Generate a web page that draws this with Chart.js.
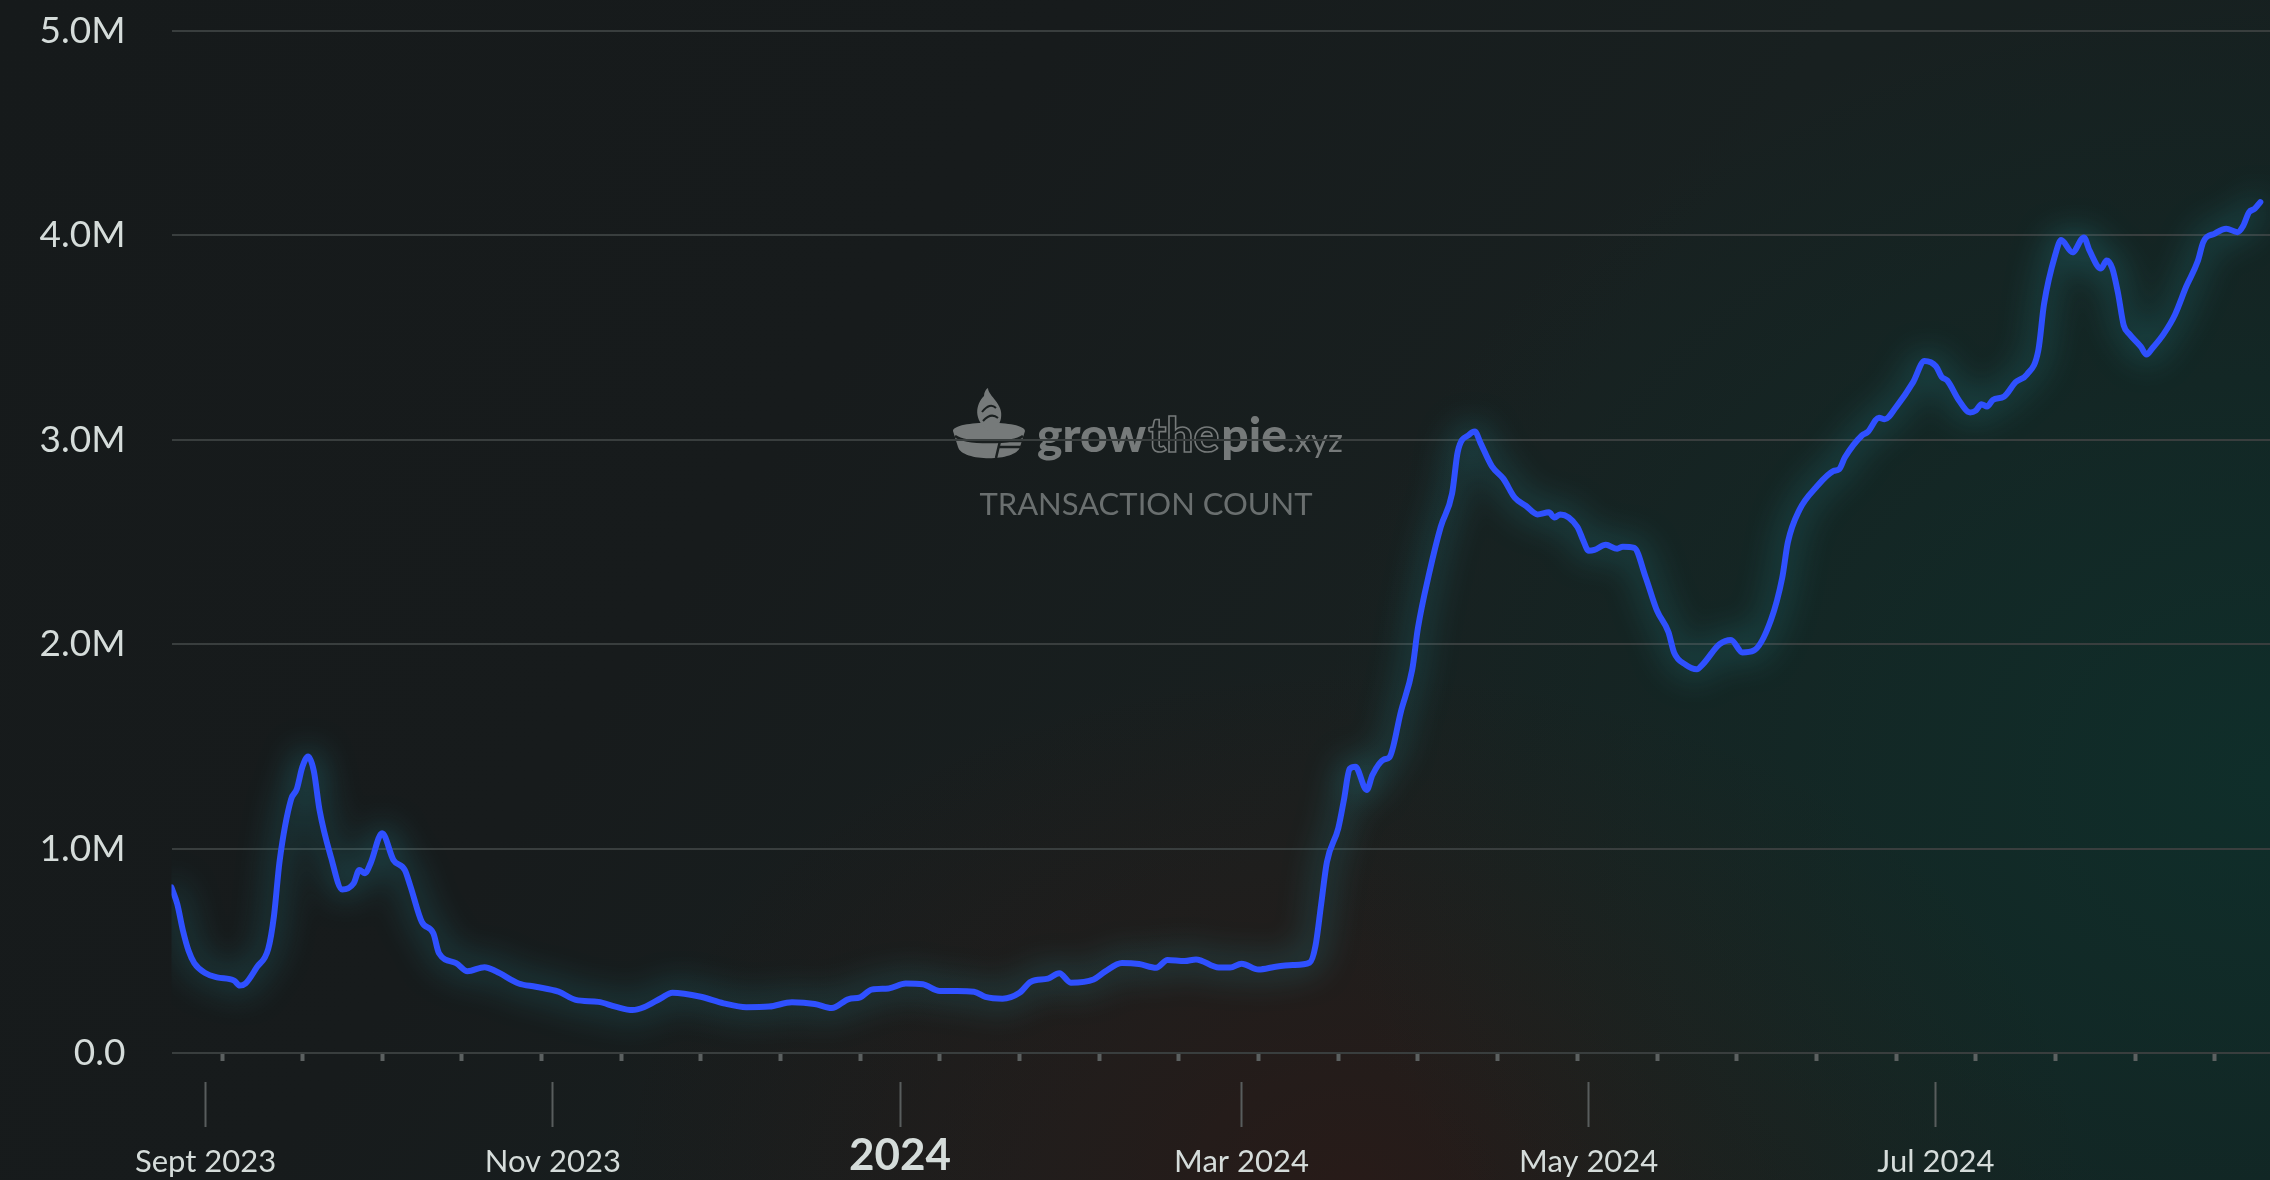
<!DOCTYPE html>
<html>
<head>
<meta charset="utf-8">
<script src="https://cdn.jsdelivr.net/npm/chart.js@4.4.1/dist/chart.umd.min.js"></script>
<style>
html,body{margin:0;padding:0;width:2270px;height:1180px;overflow:hidden;}
body{
  background:
    radial-gradient(ellipse 950px 800px at 2270px 780px, rgba(10,60,52,0.5), rgba(10,60,52,0) 100%),
    radial-gradient(ellipse 750px 520px at 1350px 1180px, rgba(62,20,14,0.42), rgba(62,20,14,0) 100%),
    linear-gradient(125deg, #161a1b 0%, #171b1c 35%, #182020 60%, #142020 100%);
}
#wrap{position:absolute;left:0;top:0;width:2270px;height:1180px;}
</style>
</head>
<body>
<div id="wrap"><canvas id="c" width="2270" height="1180"></canvas></div>
<script>
// ---- DATA ----
const START_DATE = '2023-08-26'; // day offset 0
const dayOffsets = [
  0,1,2,3,4,6,8,11,12,13,15,17,18,19,21,22,23,24,25,26,28,30,32,33,34,35,37,39,41,42,
  44,46,47,50,52,55,57,61,64,68,71,75,78,81,83,86,88,93,97,101,105,109,113,116,119,121,123,126,129,132,
  135,138,141,143,146,149,151,154,156,158,162,164,167,170,173,175,178,180,184,186,188,191,194,197,200,201,202,203,205,206,
  207,208,210,211,213,214,216,218,219,221,223,225,226,228,229,230,232,234,236,238,240,242,243,244,247,248,249,250,252,254,
  255,257,259,261,263,264,266,268,269,272,274,276,278,281,283,284,286,289,292,293,294,297,298,300,301,303,306,308,310,311,
  312,314,316,317,318,319,320,322,324,326,328,329,331,332,334,336,337,339,340,341,342,343,344,346,347,348,350,352,354,356,
  357,359,361,363,364,365,366,367
];
const txCountMillions = [
  0.81,0.73,0.60,0.50,0.44,0.39,0.37,0.354,0.33,0.34,0.42,0.51,0.67,0.94,1.24,1.29,1.40,1.45,1.38,1.19,0.96,0.80,0.83,0.895,0.88,0.93,1.075,0.944,0.895,0.814,
  0.64,0.586,0.488,0.44,0.40,0.42,0.40,0.34,0.324,0.30,0.26,0.25,0.227,0.21,0.224,0.268,0.295,0.275,0.243,0.224,0.227,0.248,0.24,0.22,0.264,0.272,0.31,0.316,0.34,0.336,
  0.303,0.303,0.30,0.275,0.266,0.295,0.349,0.364,0.39,0.344,0.36,0.398,0.44,0.435,0.417,0.455,0.45,0.458,0.418,0.418,0.437,0.408,0.422,0.43,0.443,0.525,0.73,0.934,1.10,1.24,
  1.39,1.40,1.287,1.36,1.436,1.447,1.67,1.877,2.08,2.35,2.574,2.738,2.943,3.025,3.04,2.984,2.87,2.81,2.717,2.676,2.635,2.645,2.62,2.635,2.574,2.51,2.457,2.461,2.486,2.467,
  2.477,2.471,2.328,2.164,2.06,1.959,1.90,1.877,1.90,2.0,2.021,1.96,1.969,2.117,2.325,2.50,2.656,2.769,2.847,2.856,2.913,3.021,3.038,3.108,3.10,3.16,3.282,3.386,3.36,3.308,
  3.29,3.195,3.134,3.143,3.174,3.163,3.195,3.212,3.282,3.32,3.438,3.664,3.908,3.977,3.917,3.99,3.925,3.838,3.877,3.838,3.717,3.56,3.517,3.456,3.417,3.447,3.517,3.612,3.751,3.873,
  3.969,4.009,4.033,4.016,4.047,4.113,4.13,4.163
];
const yTickValues = [0,1,2,3,4,5];
const yTickLabels = ['0.0','1.0M','2.0M','3.0M','4.0M','5.0M'];
const minorTickDays = [9,23,37,51,65,79,93,107,121,135,149,163,177,191,205,219,233,247,261,275,289,303,317,331,345,359];
const monthTickDays = [6,67,128,188,249,310];
const monthTickLabels = ['Sept 2023','Nov 2023','2024','Mar 2024','May 2024','Jul 2024'];
const X_MIN = 0, X_MAX = 368.7;
const TITLE = 'TRANSACTION COUNT';

// ---- PLUGINS ----
const glow = {
  id:'glow',
  beforeDatasetsDraw(chart){
    const ctx = chart.ctx;
    ctx.save();
    ctx.shadowColor = 'rgba(45,165,175,0.85)';
    ctx.shadowBlur = 34;
  },
  afterDatasetsDraw(chart){ chart.ctx.restore(); }
};

const watermark = {
  id:'watermark',
  beforeDraw(chart){
    const ctx = chart.ctx;
    const col = '#767a7a';
    ctx.save();
    // pie logo
    ctx.fillStyle = col;
    ctx.beginPath();
    ctx.moveTo(953, 431);
    ctx.bezierCurveTo(953, 420, 1025, 420, 1025, 431);
    ctx.lineTo(1020, 447);
    ctx.bezierCurveTo(1016, 462, 962, 462, 958, 447);
    ctx.closePath();
    ctx.fill();
    ctx.strokeStyle = '#1a1f1f';
    ctx.lineWidth = 2.5;
    ctx.beginPath();
    ctx.moveTo(955, 436);
    ctx.bezierCurveTo(965, 444, 1013, 444, 1023, 436);
    ctx.stroke();
    ctx.beginPath();
    ctx.moveTo(1000, 441); ctx.lineTo(1024, 441);
    ctx.moveTo(998, 447); ctx.lineTo(1022, 447);
    ctx.moveTo(1000, 441); ctx.lineTo(996, 458);
    ctx.stroke();
    // flame
    ctx.fillStyle = col;
    ctx.beginPath();
    ctx.moveTo(990, 432);
    ctx.bezierCurveTo(972, 420, 976, 404, 984, 396);
    ctx.bezierCurveTo(984, 392, 986, 389, 988, 388);
    ctx.bezierCurveTo(988, 396, 1004, 404, 1001, 418);
    ctx.bezierCurveTo(1000, 425, 995, 429, 990, 432);
    ctx.closePath();
    ctx.fill();
    ctx.strokeStyle = '#1a1f1f';
    ctx.lineWidth = 2;
    ctx.beginPath();
    ctx.moveTo(982, 412); ctx.quadraticCurveTo(990, 402, 996, 408);
    ctx.moveTo(983, 421); ctx.quadraticCurveTo(991, 412, 998, 418);
    ctx.stroke();

    // wordmark
    ctx.textBaseline = 'alphabetic';
    ctx.textAlign = 'left';
    let x = 1037; const y = 452;
    ctx.font = '900 48px Lato';
    ctx.fillStyle = col;
    ctx.fillText('grow', x, y); x += ctx.measureText('grow').width + 2;
    ctx.strokeStyle = col; ctx.lineWidth = 1.6;
    ctx.strokeText('the', x, y); x += ctx.measureText('the').width + 2;
    ctx.fillText('pie', x, y); x += ctx.measureText('pie').width;
    ctx.font = '33px Lato';
    ctx.fillText('.xyz', x, y);

    ctx.font = '31px Lato';
    ctx.textAlign = 'center';
    ctx.fillStyle = '#6a6f6f';
    ctx.fillText(TITLE, 1146, 515);
    ctx.restore();
  }
};

Chart.defaults.font.family = 'Lato';

new Chart(document.getElementById('c'), {
  type:'line',
  data:{
    datasets:[{
      data: dayOffsets.map((d,i)=>({x:d, y:txCountMillions[i]})),
      borderColor:'#2f50ff',
      borderWidth:6,
      pointRadius:0,
      cubicInterpolationMode:'monotone',
      borderJoinStyle:'round',
      borderCapStyle:'round',
      fill:false,
      xAxisID:'x', yAxisID:'y'
    }]
  },
  options:{
    responsive:false,
    animation:false,
    devicePixelRatio:1,
    layout:{padding:{top:31,right:0,bottom:0,left:0}},
    plugins:{legend:{display:false}, tooltip:{enabled:false}},
    scales:{
      x:{
        type:'linear', position:'bottom', min:X_MIN, max:X_MAX, weight:0,
        afterBuildTicks:s=>{ s.ticks = minorTickDays.map(v=>({value:v})); },
        ticks:{display:false},
        grid:{display:true, drawOnChartArea:false, drawTicks:true, tickLength:8, tickWidth:4, tickColor:'#5c6161'},
        border:{display:false},
        afterFit:s=>{ s.height = 29; s.paddingLeft = 0; s.paddingRight = 0; }
      },
      x2:{
        type:'linear', position:'bottom', min:X_MIN, max:X_MAX, weight:1,
        afterBuildTicks:s=>{ s.ticks = monthTickDays.map(v=>({value:v})); },
        ticks:{
          autoSkip:false, maxRotation:0, minRotation:0, padding:4, color:'#D5DCDA',
          callback:(v,i)=>monthTickLabels[i],
          font:c=> (monthTickLabels[c.index]==='2024')
            ? {family:'Lato', size:44, weight:'bold', lineHeight:'50px'}
            : {family:'Lato', size:31, lineHeight:'61px'}
        },
        grid:{drawOnChartArea:false, drawTicks:true, tickLength:45, tickWidth:2, tickColor:'#585d5d'},
        border:{display:false},
        afterFit:s=>{ s.height = 98; s.paddingLeft = 0; s.paddingRight = 0; }
      },
      y:{
        min:0, max:5,
        afterBuildTicks:s=>{ s.ticks = yTickValues.map(v=>({value:v})); },
        ticks:{padding:46, color:'#D5DCDA', font:{family:'Lato', size:37}, callback:(v,i)=>yTickLabels[i]},
        grid:{color:'#393e3e', lineWidth:2, drawTicks:false},
        border:{display:false},
        afterFit:s=>{ s.width = 171.5; s.paddingTop = 0; s.paddingBottom = 0; }
      }
    }
  },
  plugins:[watermark, glow]
});
</script>
</body>
</html>
